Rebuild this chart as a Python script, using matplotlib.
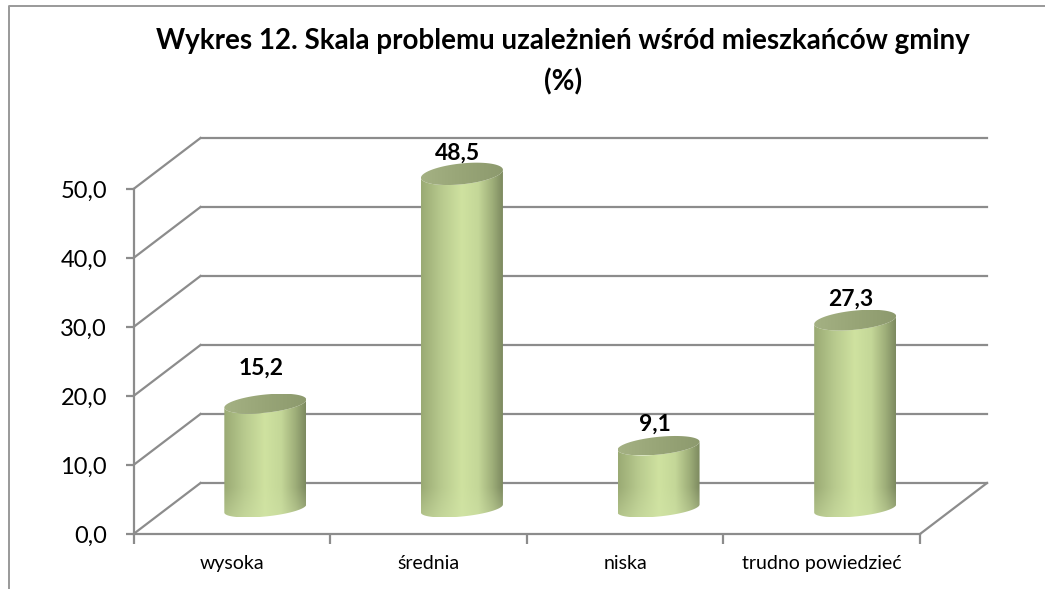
"""
Wykres 12 - 3D style cylinder chart
"""
import matplotlib
matplotlib.use('Agg')
import matplotlib.pyplot as plt
from matplotlib.colors import LinearSegmentedColormap, to_rgb
from matplotlib.patches import PathPatch
from matplotlib.path import Path
import numpy as np

CATEGORIES = ['wysoka', 'średnia', 'niska', 'trudno powiedzieć']
VALUES = [15.2, 48.5, 9.1, 27.3]
Y_TICKS = [0, 10, 20, 30, 40, 50]
TITLE = 'Wykres 12. Skala problemu uzależnień wśród mieszkańców gminy\n(%)'

W, H = 1045, 589
LEFT, RIGHT, BOTTOM, TOP = 133.5, 920, 534, 189
GRID = '#8c8c8c'
# gap between cylinder cap and its label, pixels
LABEL_GAPS = [25, 9, 12, 11]

plt.rcParams['font.family'] = ['Lato', 'DejaVu Sans']

fig = plt.figure(figsize=(W / 100, H / 100), dpi=100)
ax = fig.add_axes([LEFT / W, 1 - BOTTOM / H, (RIGHT - LEFT) / W, (BOTTOM - TOP) / H])
ax.patch.set_alpha(0)

# pixel sizes converted to data units
PX_X = len(CATEGORIES) / (RIGHT - LEFT)
PX_Y = Y_TICKS[-1] / (BOTTOM - TOP)
DEPTH_X = 67 * PX_X
DEPTH_Y = 51 * PX_Y

xmax = len(CATEGORIES)
for tick in Y_TICKS:
  ax.plot([0, DEPTH_X], [tick, tick + DEPTH_Y], color=GRID, lw=1.6, clip_on=False, zorder=1)
  ax.plot([DEPTH_X, xmax + DEPTH_X], [tick + DEPTH_Y] * 2, color=GRID, lw=1.6, clip_on=False, zorder=1)
ax.plot([xmax, xmax + DEPTH_X], [0, DEPTH_Y], color=GRID, lw=1.6, clip_on=False, zorder=1)

body_cmap = LinearSegmentedColormap.from_list(
    'body', [(0, '#9aaa74'), (0.25, '#b8ca8e'), (0.5, '#cfe2a0'), (0.7, '#c4d798'),
             (0.88, '#9dad78'), (1, '#7d8a60')])
top_cmap = LinearSegmentedColormap.from_list('top', ['#a4b183', '#98a577', '#8d9a6e'])


def cylinder_edges(center, base, value):
  a = 41 * PX_X
  b = 8 * PX_Y
  # the cap opens up a little the higher it sits
  b_top = (8.5 + 0.04 * value) * PX_Y
  s = 4 * PX_Y
  t_low = np.linspace(np.pi, 2 * np.pi, 60)
  t_top = np.linspace(0, 2 * np.pi, 120)
  low = np.column_stack([center + a * np.cos(t_low),
                         base + b * np.sin(t_low) + s * np.cos(t_low)])
  # front half of the top ellipse closes the body outline
  front = np.linspace(0, -np.pi, 60)
  upper = np.column_stack([center + a * np.cos(front),
                           base + value + b_top * np.sin(front) + s * np.cos(front)])
  cap = np.column_stack([center + a * np.cos(t_top),
                         base + value + b_top * np.sin(t_top) + s * np.cos(t_top)])
  return np.vstack([low, upper]), cap, a


def body_image(height_px):
  # horizontal shading, getting paler over the last pixels near the base
  rows = max(int(height_px), 2)
  rgb = body_cmap(np.linspace(0, 1, 200))[:, :3]
  img = np.repeat(rgb[np.newaxis, :, :], rows, axis=0)
  fade = np.clip((np.arange(rows) - (rows - 30)) / 30, 0, 1)[:, np.newaxis, np.newaxis] * 0.45
  return img * (1 - fade) + np.array(to_rgb('#d2e4a8')) * fade


for i, value in enumerate(VALUES):
  center = i + 0.5 + DEPTH_X / 2
  base = DEPTH_Y / 2
  body, cap, a = cylinder_edges(center, base, value)
  extent = [center - a, center + a, body[:, 1].min(), body[:, 1].max()]

  im = ax.imshow(body_image((extent[3] - extent[2]) / PX_Y), extent=extent, aspect='auto', zorder=3)
  im.set_clip_box(fig.bbox)
  im.set_clip_path(PathPatch(Path(body, closed=False), transform=ax.transData))

  extent = [center - a, center + a, cap[:, 1].min(), cap[:, 1].max()]
  im = ax.imshow(np.linspace(0, 1, 100).reshape(1, -1), cmap=top_cmap, extent=extent,
                 aspect='auto', zorder=4)
  im.set_clip_box(fig.bbox)
  im.set_clip_path(PathPatch(Path(cap, closed=False), transform=ax.transData))

  ax.annotate(f'{value:.1f}'.replace('.', ','), (center - 4 * PX_X, cap[:, 1].max()),
              xytext=(0, LABEL_GAPS[i] * 0.72), textcoords='offset points', ha='center', va='center',
              fontsize=16.5, fontweight='bold', color='black', annotation_clip=False, zorder=5)

ax.set_xlim(0, xmax)
ax.set_ylim(Y_TICKS[0], Y_TICKS[-1])
ax.set_xticks(range(xmax + 1))
ax.set_xticklabels([])
ax.set_xticks([i + 0.5 for i in range(xmax)], CATEGORIES, minor=True)
ax.set_yticks(Y_TICKS, [f'{t:.1f}'.replace('.', ',') for t in Y_TICKS])
ax.tick_params(axis='y', labelsize=17, length=6, width=1.6, color=GRID, pad=13)
ax.tick_params(axis='x', which='major', length=7, width=1.6, color=GRID)
ax.tick_params(axis='x', which='minor', length=0, labelsize=14, pad=15)
for name, spine in ax.spines.items():
  spine.set_visible(name in ('left', 'bottom'))
  spine.set_color(GRID)
  spine.set_linewidth(1.6)

fig.text(563 / W, 1 - 62 / H, TITLE, ha='center', va='center', fontsize=20,
         fontweight='bold', linespacing=1.63)
frame_x = [8.5 / W, 8.5 / W, 1]
frame_y = [0, 1 - 6 / H, 1 - 6 / H]
fig.add_artist(plt.Line2D(frame_x, frame_y, color='#999999', lw=1.4))

fig.savefig('out.png', dpi=100)
